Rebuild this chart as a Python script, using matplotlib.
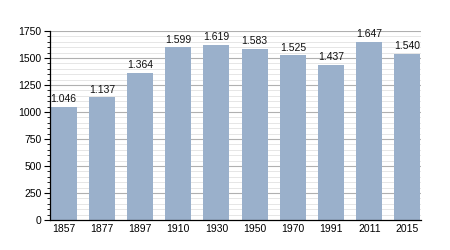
import matplotlib
matplotlib.use("Agg")
import matplotlib.pyplot as plt
import numpy as np

years = ["1857", "1877", "1897", "1910", "1930", "1950", "1970", "1991", "2011", "2015"]
population = [1046, 1137, 1364, 1599, 1619, 1583, 1525, 1437, 1647, 1540]
labels = ["1.046", "1.137", "1.364", "1.599", "1.619", "1.583", "1.525", "1.437", "1.647", "1.540"]

plt.rcParams['font.family'] = ['Liberation Sans', 'DejaVu Sans']

fig = plt.figure(figsize=(4.5, 2.5), dpi=100)
ax = fig.add_axes([0.111, 0.12, 0.825, 0.756])

x = np.arange(len(years))
# grid lines first, bars on top
for v in range(50, 1751, 50):
    if v % 250 == 0:
        ax.axhline(v, color="#b0b0b0", lw=0.8, zorder=0)
    else:
        ax.axhline(v, color="#e2e2e2", lw=0.6, zorder=0)

ax.bar(x, population, width=0.68, color="#9ab0cb", zorder=2)
for xi, yi, lab in zip(x, population, labels):
    ax.text(xi, yi + 25, lab, ha="center", va="bottom", fontsize=7.5, color="#111111")

ax.set_xlim(-0.36, 9.36)
ax.set_ylim(0, 1750)
ax.set_xticks(x)
ax.set_xticklabels(years)
ax.set_yticks(range(0, 1751, 250))
ax.set_yticks(range(0, 1751, 50), minor=True)
ax.tick_params(axis="x", length=0, labelsize=7.5, pad=3)
ax.tick_params(axis="y", which="major", length=4, width=0.8, labelsize=7.5, pad=2)
ax.tick_params(axis="y", which="minor", length=2, width=0.6)
for s in ["top", "right"]:
    ax.spines[s].set_visible(False)
ax.spines["left"].set_linewidth(0.9)
ax.spines["bottom"].set_linewidth(0.9)

fig.savefig("out.png", dpi=100)
